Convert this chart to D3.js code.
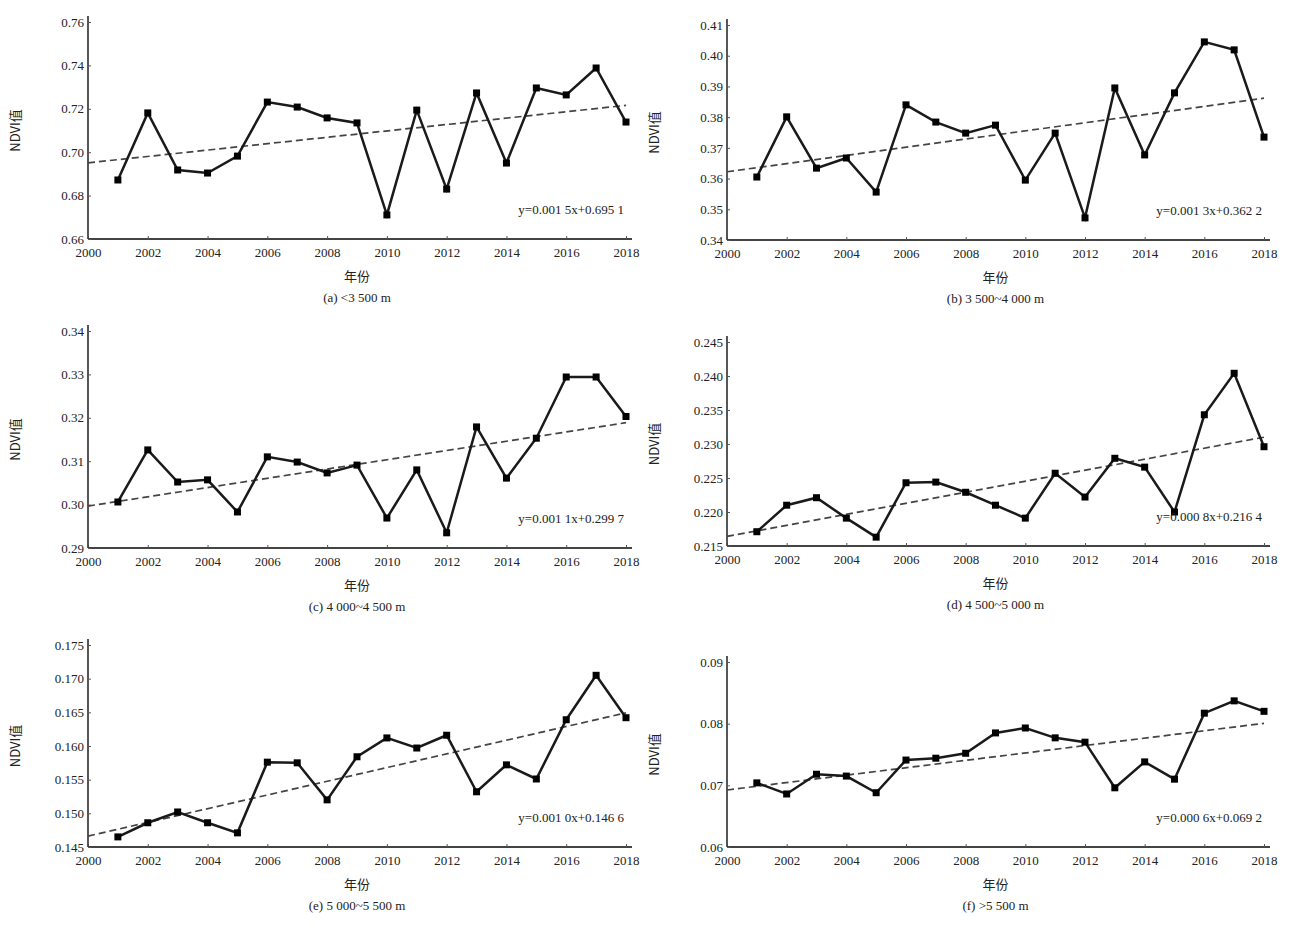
<!DOCTYPE html>
<html><head><meta charset="utf-8">
<script src="https://cdn.jsdelivr.net/npm/d3@7"></script>
<style>
body{margin:0;background:#fff;}
text{font-family:"Liberation Serif","DejaVu Serif",serif;fill:#222;}
.cjk{font-family:"Noto Sans CJK SC",sans-serif;}
</style></head>
<body><svg id="c" width="1300" height="929"></svg>
<script>
// ---- data ----
const years = d3.range(2001, 2019);
const xTicks = [2000,2002,2004,2006,2008,2010,2012,2014,2016,2018];
const ndviA = [0.6872,0.7181,0.6918,0.6904,0.6982,0.7231,0.7208,0.7158,0.7135,0.6711,0.7194,0.6830,0.7273,0.6950,0.7296,0.7264,0.7388,0.7139];
const ndviB = [0.3605,0.3801,0.3634,0.3667,0.3556,0.3840,0.3784,0.3748,0.3774,0.3595,0.3748,0.3472,0.3895,0.3677,0.3879,0.4045,0.4019,0.3735];
const ndviC = [0.3006,0.3126,0.3052,0.3057,0.2983,0.3110,0.3098,0.3073,0.3091,0.2969,0.3080,0.2935,0.3179,0.3061,0.3153,0.3294,0.3294,0.3203];
const ndviD = [0.2171,0.2210,0.2221,0.2191,0.2163,0.2243,0.2244,0.2229,0.2210,0.2191,0.2257,0.2222,0.2279,0.2266,0.2200,0.2343,0.2404,0.2296];
const ndviE = [0.1465,0.1486,0.1502,0.1486,0.1471,0.1576,0.1575,0.1520,0.1584,0.1612,0.1597,0.1616,0.1532,0.1572,0.1551,0.1639,0.1705,0.1642];
const ndviF = [0.0704,0.0686,0.0718,0.0715,0.0688,0.0741,0.0744,0.0752,0.0785,0.0793,0.0777,0.0770,0.0696,0.0738,0.0710,0.0817,0.0837,0.0820];
const yTicksA = [0.66,0.68,0.70,0.72,0.74,0.76];
const yTicksB = [0.34,0.35,0.36,0.37,0.38,0.39,0.40,0.41];
const yTicksC = [0.29,0.30,0.31,0.32,0.33,0.34];
const yTicksD = [0.215,0.220,0.225,0.230,0.235,0.240,0.245];
const yTicksE = [0.145,0.150,0.155,0.160,0.165,0.170,0.175];
const yTicksF = [0.06,0.07,0.08,0.09];
const captions = ["(a) <3 500 m","(b) 3 500~4 000 m","(c) 4 000~4 500 m","(d) 4 500~5 000 m","(e) 5 000~5 500 m","(f) >5 500 m"];
const xTitle = "年份";
const yTitle = "NDVI值";

// ---- layout ----
const panels = [
 {vals:ndviA, ticks:yTicksA, fmt:".2f", x0:88, x1:626, yb:239, yt:22, cap:captions[0]},
 {vals:ndviB, ticks:yTicksB, fmt:".2f", x0:727, x1:1264, yb:240, yt:25, cap:captions[1]},
 {vals:ndviC, ticks:yTicksC, fmt:".2f", x0:88, x1:626, yb:548, yt:331, cap:captions[2]},
 {vals:ndviD, ticks:yTicksD, fmt:".3f", x0:727, x1:1264, yb:546, yt:342, cap:captions[3]},
 {vals:ndviE, ticks:yTicksE, fmt:".3f", x0:88, x1:626, yb:847, yt:645, cap:captions[4]},
 {vals:ndviF, ticks:yTicksF, fmt:".2f", x0:727, x1:1264, yb:847, yt:662, cap:captions[5]}
];

const svg = d3.select("#c");

function fmtNum(v, dec){
  const s = Math.abs(v).toFixed(dec);
  const [ip, fp] = s.split(".");
  return ip + "." + fp.slice(0,3) + (fp.length>3 ? " " + fp.slice(3) : "");
}

panels.forEach(p => {
  const g = svg.append("g");
  const x = d3.scaleLinear().domain([2000, 2018]).range([p.x0, p.x1]);
  const y = d3.scaleLinear().domain([p.ticks[0], p.ticks[p.ticks.length-1]]).range([p.yb, p.yt]);

  const xa = g.append("g").attr("transform", `translate(0,${p.yb})`)
    .call(d3.axisBottom(x).tickValues(xTicks).tickFormat(d3.format("d")).tickSize(-3).tickPadding(9));
  xa.select(".domain").attr("d", `M${p.x0},0H${p.x1+6}`);
  const ya = g.append("g").attr("transform", `translate(${p.x0},0)`)
    .call(d3.axisLeft(y).tickValues(p.ticks).tickFormat(d3.format(p.fmt)).tickSize(-3).tickPadding(4));
  ya.select(".domain").attr("d", `M0,${p.yb}V${p.yt-6}`);
  g.selectAll(".domain").attr("stroke","#444").attr("stroke-width",1.8);
  g.selectAll(".tick line").attr("stroke","#555");
  g.selectAll(".tick text").style("font-size","13px").style("font-family","'Liberation Serif',serif").attr("fill","#222");

  // regression trend (x = 1..n)
  const n = p.vals.length;
  const xs = d3.range(1, n+1);
  const mx = d3.mean(xs), my = d3.mean(p.vals);
  const b = d3.sum(xs, (xi,i)=>(xi-mx)*(p.vals[i]-my)) / d3.sum(xs, xi=>(xi-mx)*(xi-mx));
  const a = my - b*mx;
  g.append("line")
    .attr("x1", x(2000)).attr("y1", y(a))
    .attr("x2", x(2018)).attr("y2", y(a + b*n))
    .attr("stroke","#444").attr("stroke-width",1.7).attr("stroke-dasharray","7,4");

  const line = d3.line().x((d,i)=>x(years[i])).y(d=>y(d));
  g.append("path").datum(p.vals).attr("d", line)
    .attr("fill","none").attr("stroke","#1a1a1a").attr("stroke-width",2.5);
  g.selectAll("rect.pt").data(p.vals).join("rect").attr("class","pt")
    .attr("x",(d,i)=>x(years[i])-3.5).attr("y",d=>y(d)-3.5)
    .attr("width",7).attr("height",7).attr("fill","#000");

  const eq = "y=" + fmtNum(b,4) + "x" + (a>=0?"+":"-") + fmtNum(a,4);
  g.append("text").attr("x", p.x1 - 2).attr("y", p.yb - 25)
    .attr("text-anchor","end").style("font-size","13px").text(eq);

  const cx = (p.x0 + p.x1)/2;
  g.append("text").attr("class","cjk").attr("x", cx).attr("y", p.yb + 42)
    .attr("text-anchor","middle").style("font-size","13px").text(xTitle);
  g.append("text").attr("x", cx).attr("y", p.yb + 63)
    .attr("text-anchor","middle").style("font-size","13px").text(p.cap);
  const ymid = (p.yb + p.yt)/2;
  g.append("text").attr("class","cjk")
    .attr("transform", `translate(${p.x0 - 68},${ymid}) rotate(-90)`)
    .attr("text-anchor","middle").style("font-size","13px").text(yTitle);
});
</script></body></html>
